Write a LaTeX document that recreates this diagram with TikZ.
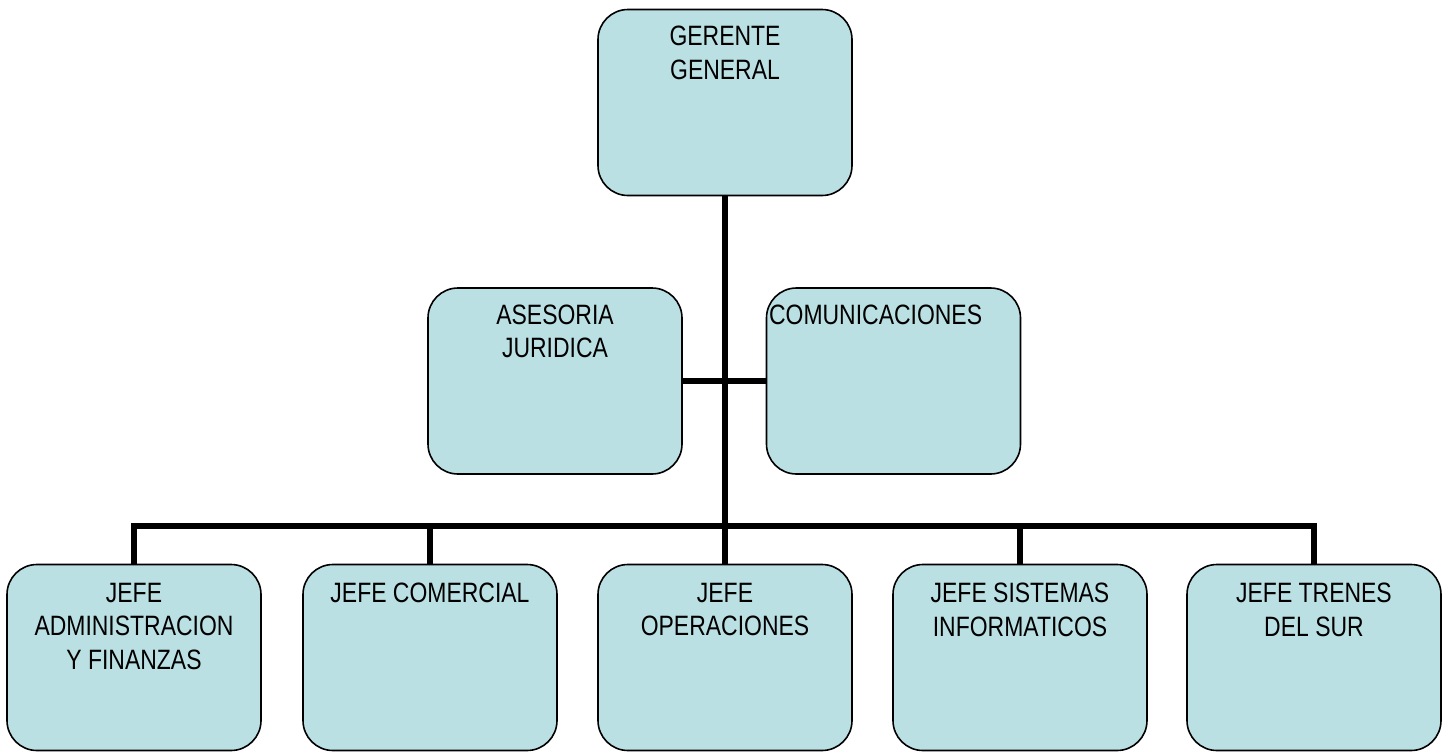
\documentclass[tikz,border=0pt]{standalone}
\usepackage{fontspec}
\setmainfont{Liberation Sans}[FakeStretch=0.82]
\usetikzlibrary{backgrounds}
\definecolor{boxfill}{RGB}{187,224,227}
\begin{document}
\begin{tikzpicture}[x=0.5pt,y=-0.5pt,
  box/.style={draw=black, line width=0.8pt, fill=boxfill, rounded corners=15pt,
    minimum width=127pt, minimum height=93pt, inner sep=0pt},
  lbl/.style={anchor=north, inner sep=0pt, align=center,
    font=\fontsize{14pt}{16.8pt}\selectfont},
  conn/.style={line width=2.75pt, black}]
\useasboundingbox (0,0) rectangle (1448,751);
% boxes
\node[box] (g) at (725,102.5) {};
\node[box] (a) at (555,381) {};
\node[box] (c) at (893.5,381) {};
\node[box] (b1) at (134,657.5) {};
\node[box] (b2) at (430,657.5) {};
\node[box] (b3) at (725,657.5) {};
\node[box] (b4) at (1020,657.5) {};
\node[box] (b5) at (1314,657.5) {};
% texts
\node[lbl] (gt) at ([yshift=-8.5pt]g.north) {GERENTE\\GENERAL};
\node[lbl] (at) at ([yshift=-8.5pt]a.north) {ASESORIA\\JURIDICA};
\node[lbl, anchor=north west] (ct) at ([xshift=1.5pt,yshift=-8.5pt]c.north west) {COMUNICACIONES};
\node[lbl] (b1t) at ([yshift=-9.5pt]b1.north) {JEFE\\ADMINISTRACION\\Y FINANZAS};
\node[lbl] (b2t) at ([yshift=-9.5pt]b2.north) {JEFE COMERCIAL};
\node[lbl] (b3t) at ([yshift=-9.5pt]b3.north) {JEFE\\OPERACIONES};
\node[lbl] (b4t) at ([yshift=-9.5pt]b4.north) {JEFE SISTEMAS\\INFORMATICOS};
\node[lbl] (b5t) at ([yshift=-9.5pt]b5.north) {JEFE TRENES\\DEL SUR};
% connectors
\coordinate (bus) at (725,526);
\begin{scope}[on background layer]
\draw[conn] (g.south) -- (bus);
\draw[conn] (a.east) -- (c.west);
\draw[conn] (b1.north) |- (bus);
\draw[conn] (b2.north) |- (bus);
\draw[conn] (b3.north) -- (bus);
\draw[conn] (b4.north) |- (bus);
\draw[conn] (b5.north) |- (bus);
\end{scope}
\end{tikzpicture}
\end{document}
